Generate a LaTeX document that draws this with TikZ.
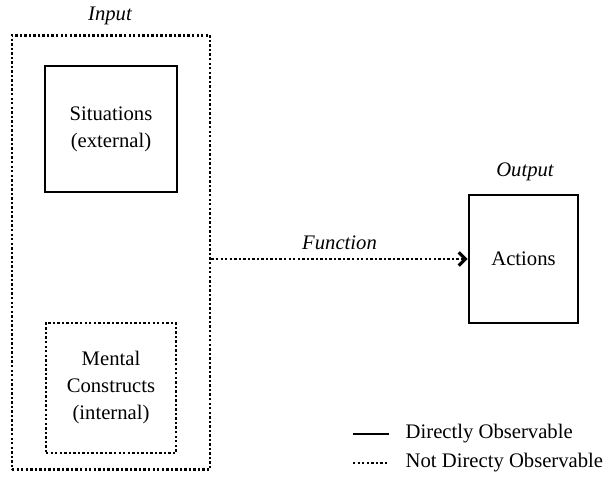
\documentclass[tikz,border=0pt]{standalone}
\usepackage{fontspec}
\setmainfont{Liberation Serif}
\usetikzlibrary{arrows.meta, positioning}

\begin{document}
\begin{tikzpicture}[
        x=0.75pt,
        y=-0.75pt,
        observable/.style={draw=black, line width=1.8pt},
        hidden/.style={draw=black, line width=2.2pt, dash pattern=on 1.8pt off 1.6pt},
        boxBase/.style={
            align=center,
            inner sep=0pt,
            font=\fontsize{15.5}{20.25}\selectfont
        },
        inbox/.style={boxBase, observable, minimum width=99pt, minimum height=94.5pt},
        hiddenbox/.style={boxBase, hidden, minimum width=97.5pt, minimum height=97.5pt},
        caption/.style={font=\fontsize{15.5}{20.25}\selectfont\itshape},
        legendtext/.style={font=\fontsize{15.5}{20.25}\selectfont, anchor=west}
    ]
        \useasboundingbox (0,0) rectangle (608,482);

        % input side
        \node[hidden, minimum width=148.5pt, minimum height=326pt] (input) at (111,252.5) {};
        \node[caption] (inputlabel) at (110,16) {Input};
        \node[inbox] (situations) at (111,129) {Situations\\(external)};
        \node[hiddenbox] (mental) at (111,388) {Mental\\Constructs\\(internal)};

        % output side
        \node[boxBase, observable, minimum width=82pt, minimum height=96pt] (actions) at (523.5,259) {Actions};
        \node[caption] (outputlabel) at (525,172) {Output};

        % function
        \draw[hidden, line width=1.8pt, -{Straight Barb[length=5pt, width=10pt, line width=2.4pt]}] (input.east |- actions) -- (actions.west)
            node[midway, above=3pt, caption] {Function};

        % legend
        \coordinate (solidA) at (353,434);
        \coordinate (solidB) at (389,434);
        \coordinate (dotA) at (353,463);
        \coordinate (dotB) at (389,463);
        \draw[observable] (solidA) -- (solidB);
        \draw[hidden, line width=1.8pt] (dotA) -- (dotB);
        \node[legendtext] (solidtext) at (401,434) {Directly Observable};
        \node[legendtext] (dottext) at (401,463) {Not Directy Observable};
    \end{tikzpicture}
\end{document}
